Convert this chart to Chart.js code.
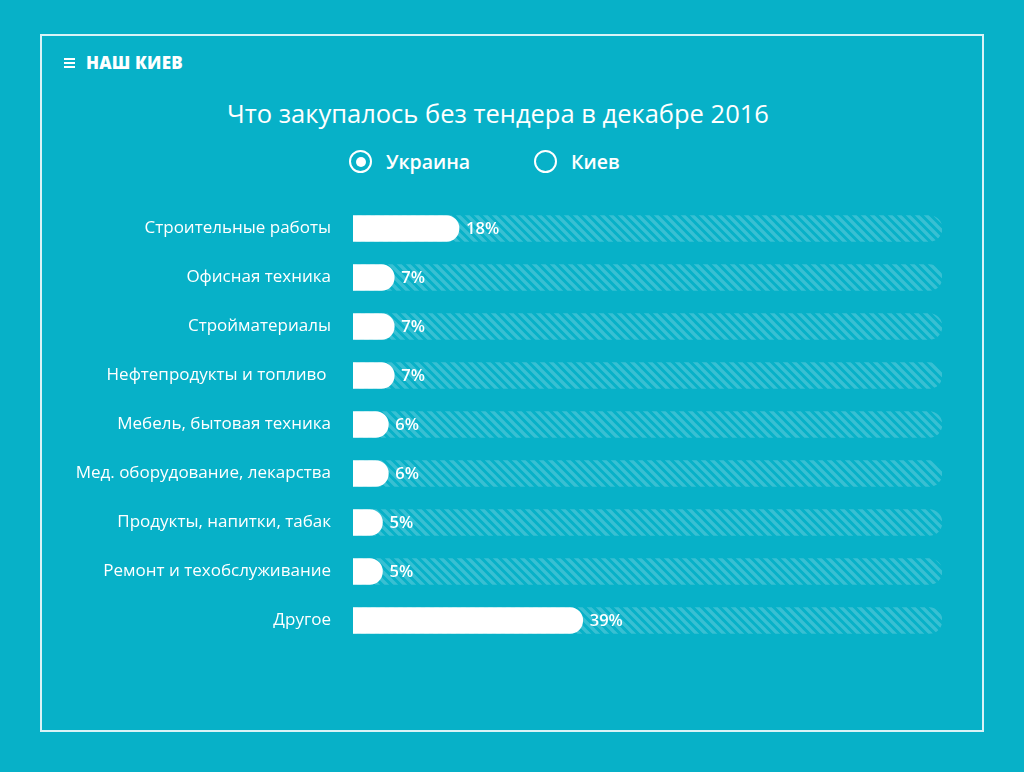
<!DOCTYPE html>
<html><head><meta charset="utf-8">
<script src="https://cdn.jsdelivr.net/npm/chart.js@4/dist/chart.umd.min.js"></script>
<style>
html,body{margin:0;padding:0;background:#07b1c8;width:1024px;height:772px;overflow:hidden;font-family:"Open Sans",sans-serif;color:#fff}
#frame{position:absolute;left:40px;top:34px;width:940px;height:694px;border:2px solid #d9f3f7}
#logo{position:absolute;left:64px;top:51px;font-weight:800;font-size:17px;letter-spacing:0.2px;display:flex;align-items:center}
#logo .bars{width:11px;height:10px;margin-right:11px;background:linear-gradient(#fff 0 2px,transparent 2px 4px,#fff 4px 6px,transparent 6px 8px,#fff 8px 10px)}
#title{position:absolute;left:0;width:996px;top:96px;text-align:center;font-size:25.5px}
.leg{position:absolute;top:148px;font-weight:600;font-size:19.5px;display:flex;align-items:center}
.dot{width:19px;height:19px;border:2.5px solid #fff;border-radius:50%;margin-right:14px;position:relative}
.dot.on::after{content:"";position:absolute;left:4.5px;top:4.5px;width:10px;height:10px;border-radius:50%;background:#fff}
#wrap{position:absolute;left:0;top:0;width:1024px;height:772px}
</style></head>
<body>
<div id="frame"></div>
<div id="logo"><span class="bars"></span>НАШ КИЕВ</div>
<div id="title">Что закупалось без тендера в декабре 2016</div>
<div class="leg" style="left:349px"><div class="dot on"></div>Украина</div>
<div class="leg" style="left:534px"><div class="dot"></div>Киев</div>
<div id="wrap"><canvas id="c" width="1024" height="772"></canvas></div>
<script>
const categories = ["Строительные работы","Офисная техника","Стройматериалы","Нефтепродукты и топливо ","Мебель, бытовая техника","Мед. оборудование, лекарства","Продукты, напитки, табак","Ремонт и техобслуживание","Другое"];
const shares = [18,7,7,7,6,6,5,5,39];
const track = [100,100,100,100,100,100,100,100,100];
const valueLabels = ["18%","7%","7%","7%","6%","6%","5%","5%","39%"];

function hatch(){
  const p=document.createElement('canvas');p.width=9;p.height=9;
  const g=p.getContext('2d');
  g.strokeStyle='rgba(255,255,255,0.2)';g.lineWidth=3.4;
  g.beginPath();
  for(let k=-1;k<=1;k++){g.moveTo(k*9-2,-2);g.lineTo(k*9+11,11);}
  g.stroke();
  return g.createPattern(p,'repeat');
}
const ctx=document.getElementById('c').getContext('2d');
const labelPlugin={id:'vals',afterDatasetsDraw(chart){
  const m=chart.getDatasetMeta(0);const c=chart.ctx;
  c.save();c.fillStyle='#fff';c.font='600 16.5px "Open Sans"';c.textBaseline='middle';c.textAlign='left';
  m.data.forEach((b,i)=>{c.fillText(valueLabels[i],b.x+7,b.y+1);});
  c.restore();
}};
new Chart(ctx,{
  type:'bar',
  data:{labels:categories,datasets:[
    {data:shares,backgroundColor:'#ffffff',borderRadius:13,borderSkipped:'start',barThickness:26,order:1},
    {data:track,backgroundColor:hatch(),borderRadius:13,borderSkipped:'start',barThickness:26,order:2}
  ]},
  options:{
    indexAxis:'y',responsive:false,animation:false,
    layout:{padding:{top:204,bottom:127,right:82,left:0}},
    plugins:{legend:{display:false},tooltip:{enabled:false}},
    datasets:{bar:{grouped:false}},
    scales:{
      x:{display:false,min:0,max:100},
      y:{grid:{display:false,drawTicks:false},border:{display:false},
         ticks:{color:'#fff',font:{family:'"Open Sans"',size:17},padding:22},
         afterFit(s){s.width=353;}}
    }
  },
  plugins:[labelPlugin]
});
</script>
</body></html>
